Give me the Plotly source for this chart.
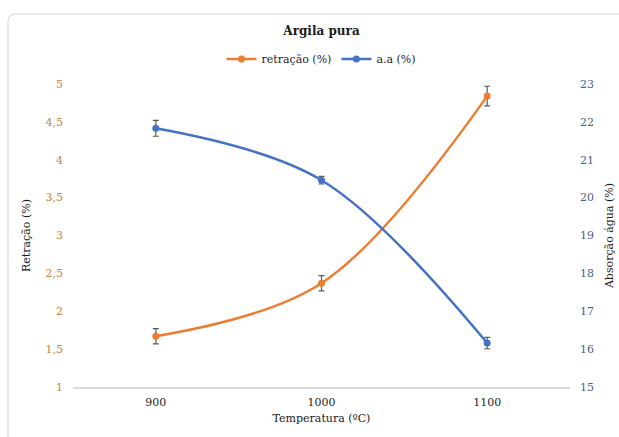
import plotly.graph_objects as go

temps = ["900", "1000", "1100"]
retracao = [1.67, 2.37, 4.84]
retracao_err = [0.10, 0.10, 0.13]
absorcao = [21.83, 20.46, 16.16]
absorcao_err = [0.21, 0.10, 0.15]

FONT = "DejaVu Serif"
ORANGE = "#ED7D31"
BLUE = "#4472C4"

W, H = 619, 437
L, R, T, B = 73, 49, 84, 50
pw, ph = W - L - R, H - T - B

def px(x):
    return (x - L) / pw

def py(y):
    return (H - B - y) / ph

fig = go.Figure()
fig.add_trace(go.Scatter(
    x=temps, y=retracao, name="retração (%)", mode="lines+markers",
    line=dict(color=ORANGE, width=2.5, shape="spline", smoothing=1),
    marker=dict(color=ORANGE, size=7),
    error_y=dict(type="data", array=retracao_err, color="#595959", thickness=1.2, width=3),
))
fig.add_trace(go.Scatter(
    x=temps, y=absorcao, name="a.a (%)", mode="lines+markers", yaxis="y2",
    line=dict(color=BLUE, width=2.5, shape="spline", smoothing=1),
    marker=dict(color=BLUE, size=7),
    error_y=dict(type="data", array=absorcao_err, color="#595959", thickness=1.2, width=3),
))

r = 8
x0, yt = px(8), py(14)
xr, yb = px(640), py(460)
rx, ry = r / pw, r / ph
path = (f"M {x0},{yb} L {x0},{yt - ry} Q {x0},{yt} {x0 + rx},{yt} L {xr},{yt}")

fig.update_layout(
    width=W, height=H,
    margin=dict(l=L, r=R, t=T, b=B, autoexpand=False),
    paper_bgcolor="white", plot_bgcolor="white",
    font=dict(family=FONT, size=11, color="#262626"),
    title=dict(text="<b>Argila pura</b>", x=0.5, xref="paper", xanchor="center",
               y=1 - 31 / H, yanchor="middle", font=dict(family=FONT, size=12, color="#1a1a1a")),
    showlegend=True,
    legend=dict(orientation="h", x=0.5, xanchor="center", xref="paper",
                y=py(59), yanchor="middle", font=dict(family=FONT, size=11, color="#262626"),
                itemwidth=30, tracegroupgap=0, bgcolor="rgba(0,0,0,0)"),
    xaxis=dict(type="category", range=[-0.5, 2.5], showgrid=False, showline=True,
               linecolor="#D9D9D9", linewidth=1.5, ticks="", zeroline=False,
               ticklabelstandoff=4, automargin=False,
               tickfont=dict(family=FONT, size=11, color="#262626"),
               title=dict(text="Temperatura (ºC)", standoff=6,
                          font=dict(family=FONT, size=11, color="#1a1a1a"))),
    yaxis=dict(range=[1, 5], dtick=0.5, showgrid=False, zeroline=False, showline=False,
               tickfont=dict(family=FONT, size=11, color="#C8823F"), ticks="",
               ticklabelstandoff=9, automargin=False,
               title=dict(text="Retração (%)", standoff=12,
                          font=dict(family=FONT, size=11, color="#1a1a1a"))),
    yaxis2=dict(range=[15, 23], dtick=1, overlaying="y", side="right", showgrid=False,
                zeroline=False, showline=False, ticks="", ticklabelstandoff=9,
                automargin=False,
                tickfont=dict(family=FONT, size=11, color="#4A5E8C"),
                title=dict(text="Absorção água (%)", standoff=12,
                           font=dict(family=FONT, size=11, color="#1a1a1a"))),
    separators=", ",
    shapes=[dict(type="path", path=path, xref="paper", yref="paper",
                 line=dict(color="#D9D9D9", width=1.2), layer="below")],
)

fig.write_html("out.html")
